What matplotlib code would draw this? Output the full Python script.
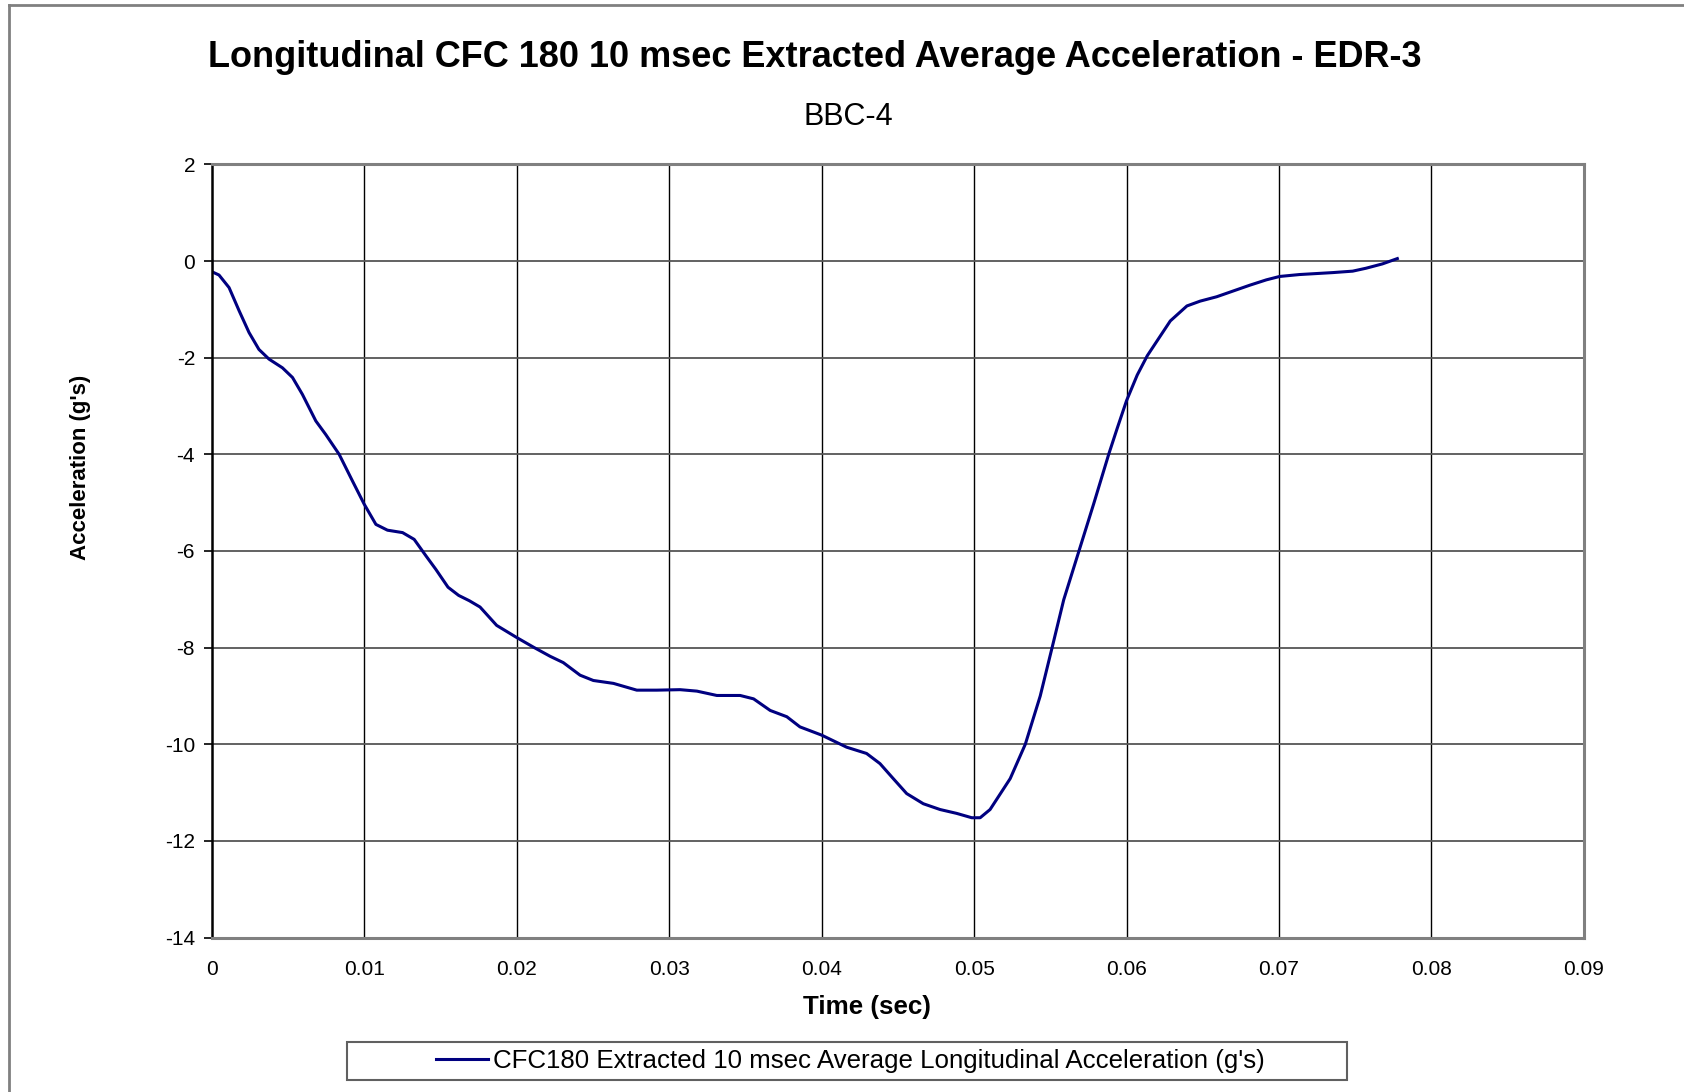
import matplotlib
matplotlib.use("Agg")
import matplotlib.pyplot as plt
from matplotlib.lines import Line2D
from matplotlib.patches import Rectangle

plt.rcParams["font.family"] = ["Liberation Sans", "DejaVu Sans"]

# Daten
time_s = [0.0, 0.0, 0.00048, 0.00114, 0.0018, 0.00245, 0.0031, 0.00376,
          0.00464, 0.0053, 0.00595, 0.00683, 0.00748, 0.00836, 0.00923,
          0.010, 0.01077, 0.01153, 0.01252, 0.01328, 0.01405, 0.0147,
          0.0155, 0.0162, 0.0169, 0.0176, 0.01869, 0.020, 0.0211, 0.0222,
          0.02306, 0.02416, 0.02503, 0.02635, 0.02788, 0.02919, 0.03072,
          0.03182, 0.03313, 0.03466, 0.03554, 0.03663, 0.03772, 0.03858,
          0.040, 0.04164, 0.04295, 0.04383, 0.0447, 0.04558, 0.04667,
          0.04777, 0.04886, 0.04985, 0.0504, 0.05105, 0.05237, 0.05336,
          0.05434, 0.05511, 0.05588, 0.05686, 0.05785, 0.05884, 0.05939,
          0.060, 0.0607, 0.06136, 0.06224, 0.06287, 0.06396, 0.06483,
          0.06591, 0.067, 0.06809, 0.06917, 0.07004, 0.07135, 0.07352,
          0.07483, 0.0757, 0.07678, 0.07776]
accel_g = [0.0, -0.22, -0.29, -0.55, -1.03, -1.48, -1.83, -2.03,
           -2.21, -2.41, -2.76, -3.31, -3.59, -4.0, -4.55,
           -5.03, -5.45, -5.57, -5.62, -5.76, -6.1, -6.38,
           -6.75, -6.92, -7.03, -7.16, -7.54, -7.79, -7.99, -8.18,
           -8.31, -8.57, -8.68, -8.74, -8.88, -8.88, -8.87,
           -8.9, -8.99, -8.99, -9.06, -9.3, -9.43, -9.64,
           -9.81, -10.06, -10.19, -10.4, -10.71, -11.02, -11.23,
           -11.35, -11.43, -11.52, -11.52, -11.35, -10.71, -10.0,
           -9.0, -8.01, -7.01, -6.02, -5.02, -3.99, -3.46,
           -2.89, -2.36, -1.96, -1.54, -1.24, -0.93, -0.83,
           -0.74, -0.62, -0.5, -0.39, -0.32, -0.28, -0.24,
           -0.21, -0.15, -0.06, 0.05]

x_ticks = [0, 0.01, 0.02, 0.03, 0.04, 0.05, 0.06, 0.07, 0.08, 0.09]
x_labels = ["0", "0.01", "0.02", "0.03", "0.04", "0.05", "0.06", "0.07", "0.08", "0.09"]
y_ticks = [2, 0, -2, -4, -6, -8, -10, -12, -14]

fig = plt.figure(figsize=(16.84, 10.92), dpi=100)
ax = fig.add_axes([0.1257, 0.1414, 0.9406 - 0.1257, 0.8495 - 0.1414])

line, = ax.plot(time_s, accel_g, color="#000080", lw=2.2, solid_joinstyle="round",
                label="CFC180 Extracted 10 msec Average Longitudinal Acceleration (g's)")

ax.set_xlim(0, 0.09)
ax.set_ylim(-14, 2)
ax.set_xticks(x_ticks)
ax.set_xticklabels(x_labels)
ax.set_yticks(y_ticks)
ax.set_yticklabels([str(v) for v in y_ticks])
ax.tick_params(axis="x", length=0, pad=16, labelsize=15)
ax.tick_params(axis="y", length=6, width=1.2, direction="out", pad=6, labelsize=15)

# Gitter
for xv in x_ticks[1:-1]:
    ax.axvline(xv, color="black", lw=1.0, zorder=0)
for yv in y_ticks[1:-1]:
    ax.axhline(yv, color="#555555", lw=1.3, zorder=0)

for side in ["top", "right", "bottom"]:
    ax.spines[side].set_color("#808080")
    ax.spines[side].set_linewidth(2.2)
ax.spines["left"].set_color("black")
ax.spines["left"].set_linewidth(1.8)

fig.text(0.484, 0.947, "Longitudinal CFC 180 10 msec Extracted Average Acceleration - EDR-3",
         ha="center", va="center", fontsize=26, fontweight="bold")
fig.text(0.504, 0.893, "BBC-4", ha="center", va="center", fontsize=22)
fig.text(0.515, 0.078, "Time (sec)", ha="center", va="center", fontsize=18.7, fontweight="bold")
fig.text(0.0478, 0.572, "Acceleration (g's)", ha="center", va="center",
         rotation=90, fontsize=16, fontweight="bold")

# Legende mit festem Rahmen
fig.patches.append(Rectangle((0.206, 0.011), 0.800 - 0.206, 0.0458 - 0.011,
                             transform=fig.transFigure, fill=False,
                             edgecolor="#606060", lw=1.5))
fig.legend(handles=[line], loc="center", bbox_to_anchor=(0.505, 0.0284),
           frameon=False, fontsize=18.6, handlelength=2.0, handletextpad=0.2)

# Rahmen um die Grafik
fig.add_artist(Line2D([9 / 1684, 1.0], [1 - 5 / 1092, 1 - 5 / 1092],
                      transform=fig.transFigure, color="#808080", lw=2))
fig.add_artist(Line2D([9 / 1684, 9 / 1684], [0.0, 1 - 5 / 1092],
                      transform=fig.transFigure, color="#808080", lw=2))

fig.savefig("out.png", dpi=100, facecolor="white")
